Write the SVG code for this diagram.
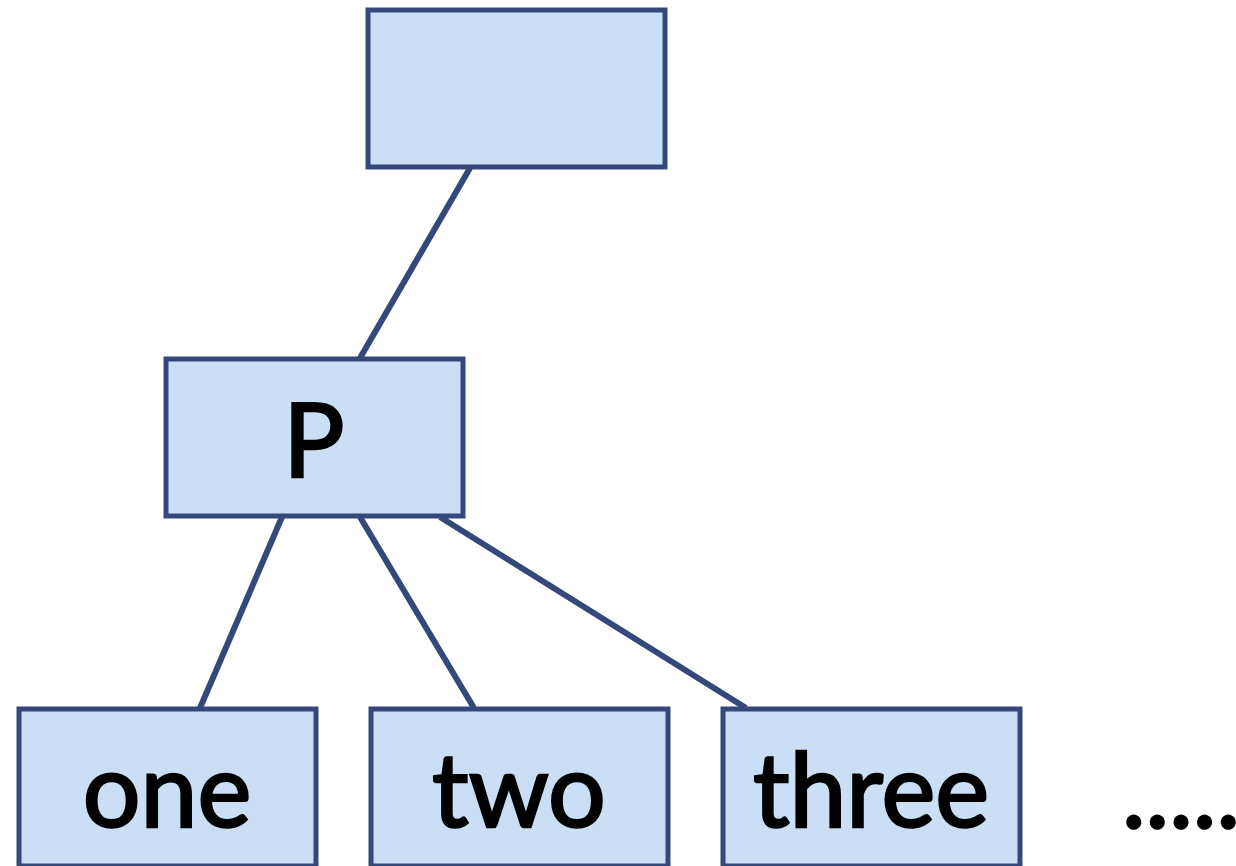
<svg xmlns="http://www.w3.org/2000/svg" width="1236" height="866" viewBox="0 0 1236 866">
<style>
.box{fill:#cadff5;stroke:#34497a;stroke-width:5}
.lbl{font-family:Lato,"Open Sans",sans-serif;font-size:102px;fill:#000;stroke:#000;stroke-width:2.5;text-anchor:middle}
.edge{stroke:#34497a;stroke-width:6;fill:none}
</style>
<rect width="1236" height="866" fill="#fff"/>
<g id="connectors">
<line class="edge" x1="470" y1="168" x2="360" y2="358"/>
<line class="edge" x1="282" y1="517" x2="200" y2="708"/>
<line class="edge" x1="360" y1="517" x2="474" y2="708"/>
<line class="edge" x1="440" y1="517" x2="746" y2="708"/>
</g>
<g id="root"><rect class="box" x="368" y="10" width="297" height="157"/></g>
<g id="P"><rect class="box" x="166" y="359" width="297" height="157"/><text class="lbl" x="314" y="477">P</text></g>
<g id="one"><rect class="box" x="19" y="709" width="297" height="157"/><text class="lbl" x="167" y="827">one</text></g>
<g id="two"><rect class="box" x="371" y="709" width="297" height="157"/><text class="lbl" x="519" y="827">two</text></g>
<g id="three"><rect class="box" x="723" y="709" width="297" height="157"/><text class="lbl" x="871" y="827">three</text></g>
<text x="1122" y="828" style="font-family:Lato,'Open Sans',sans-serif;font-size:100px;fill:#000;stroke:#000;stroke-width:2.5">.....</text>
</svg>
